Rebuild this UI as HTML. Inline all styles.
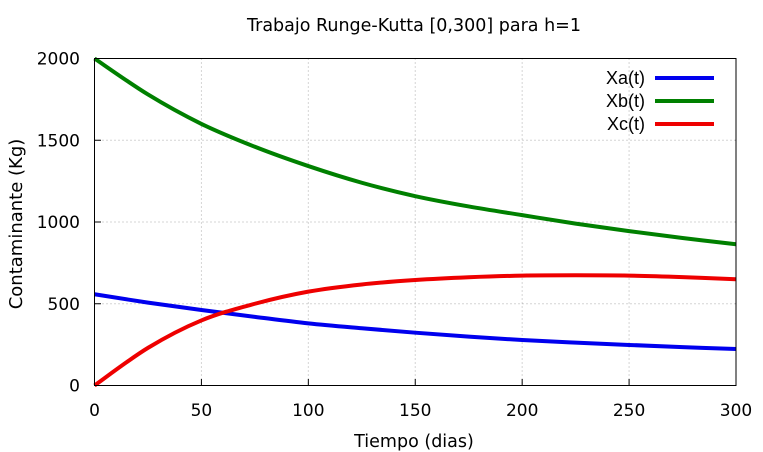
<!DOCTYPE html>
<html><head><meta charset="utf-8"><style>
body{margin:0;background:#fff}
svg{display:block;font-family:"DejaVu Sans","Liberation Sans",sans-serif}
</style></head><body>
<svg id="c" width="763" height="452">
<text x="414" y="31" font-size="17.5" text-anchor="middle">Trabajo Runge-Kutta [0,300] para h=1</text>
<text x="414" y="447" font-size="17.5" text-anchor="middle">Tiempo (dias)</text>
<text transform="translate(22,224) rotate(-90)" font-size="18" text-anchor="middle">Contaminante (Kg)</text>
<g id="grid"></g><g id="series"></g>
<rect x="94.5" y="58.5" width="641.5" height="327" fill="none" stroke="#000"/>
<g id="legend" font-size="18" style="font-family:'Liberation Sans',sans-serif"></g>
</svg>
<script>
const times=[0,25,50,75,100,125,150,175,200,225,250,275,300];
const xa=[558,507,462,420,380,350,323,299,278,262,248,235,223];
const xb=[2000,1780,1600,1460,1342,1240,1158,1095,1042,990,944,902,864];
const xc=[0,230,398,500,574,618,645,662,672,674,672,663,650];
const xTicks=[0,50,100,150,200,250,300];
const yTicks=[0,500,1000,1500,2000];
const names=['Xa(t)','Xb(t)','Xc(t)'];
const colors=['#0000ee','#008000','#ee0000'];
const X=v=>94.5+v/300*641.5, Y=v=>385.5-v/2000*327;
const NS='http://www.w3.org/2000/svg';
function mk(t,a,p){const e=document.createElementNS(NS,t);for(const k in a)e.setAttribute(k,a[k]);p.appendChild(e);return e;}
const g=document.getElementById('grid');
xTicks.forEach(v=>{
 if(v>0&&v<300){const l=mk('line',{x1:X(v),x2:X(v),y1:58.5,y2:385.5,stroke:'#aaa','stroke-dasharray':'1,3'},g);
 }
 const t=mk('line',{x1:X(v),x2:X(v),y1:385.5,y2:379,stroke:'#000'},g);
 
 const tx=mk('text',{x:X(v),y:416,'font-size':17,'text-anchor':'middle'},g);tx.textContent=v;
 
});
yTicks.forEach(v=>{
 if(v>0&&v<2000){const l=mk('line',{x1:94.5,x2:736,y1:Y(v),y2:Y(v),stroke:'#aaa','stroke-dasharray':'1,3'},g);
 }
 const t=mk('line',{x1:94.5,x2:101,y1:Y(v),y2:Y(v),stroke:'#000'},g);
 
 const tx=mk('text',{x:80,y:Y(v)+6,'font-size':17,'text-anchor':'end'},g);tx.textContent=v;
 
});
function path(vals){
 const p=vals.map((v,i)=>[X(times[i]),Y(v)]);
 let d='M'+p[0][0]+','+p[0][1];
 for(let i=0;i<p.length-1;i++){
  const p0=p[Math.max(i-1,0)],p1=p[i],p2=p[i+1],p3=p[Math.min(i+2,p.length-1)];
  d+=' C'+(p1[0]+(p2[0]-p0[0])/6)+','+(p1[1]+(p2[1]-p0[1])/6)+' '+(p2[0]-(p3[0]-p1[0])/6)+','+(p2[1]-(p3[1]-p1[1])/6)+' '+p2[0]+','+p2[1];
 }
 return d;
}
const s=document.getElementById('series');
[xa,xb,xc].forEach((vals,i)=>{
 const e=mk('path',{d:path(vals),fill:'none',stroke:colors[i],'stroke-width':4},s);
 
 
});
const lg=document.getElementById('legend');
names.forEach((n,i)=>{
 const y=78+i*23;
 const t=mk('text',{x:645,y:y+6,'text-anchor':'end'},lg);t.textContent=n;
 
 const l=mk('line',{x1:655,x2:714,y1:y,y2:y,stroke:colors[i],'stroke-width':4},lg);
 
});
</script>
</body></html>
